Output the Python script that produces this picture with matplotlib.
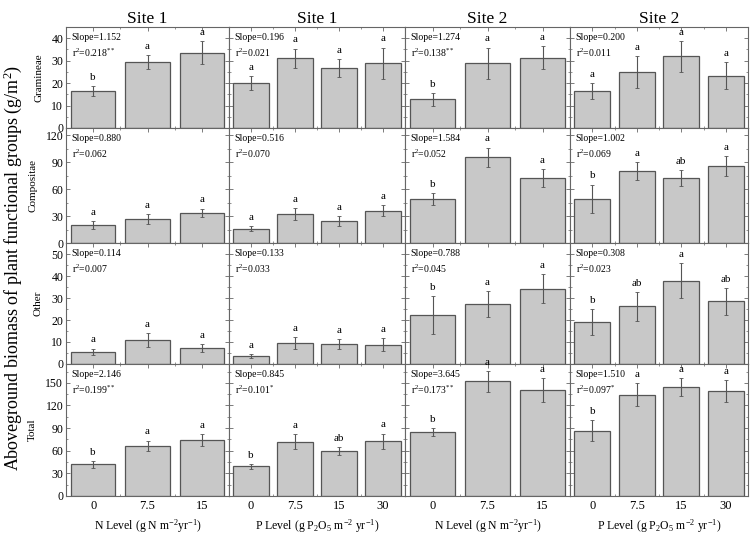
import matplotlib
matplotlib.use('Agg')
import matplotlib.pyplot as plt
from matplotlib.ticker import MultipleLocator, FixedLocator

plt.rcParams['font.family'] = ['Liberation Serif', 'DejaVu Serif']
plt.rcParams['mathtext.fontset'] = 'custom'
plt.rcParams['mathtext.rm'] = 'Liberation Serif'
plt.rcParams['mathtext.it'] = 'Liberation Serif:italic'

# ---- data ----
levels_N = ['0', '7.5', '15']
levels_P = ['0', '7.5', '15', '30']
col_levels = [levels_N, levels_P, levels_N, levels_P]
site_titles = ['Site 1', 'Site 1', 'Site 2', 'Site 2']
xlabels = ['N Level (g N m$^{-2}$yr$^{-1}$)',
           'P Level (g P$_2$O$_5$ m$^{-2}$ yr$^{-1}$)',
           'N Level (g N m$^{-2}$yr$^{-1}$)',
           'P Level (g P$_2$O$_5$ m$^{-2}$ yr$^{-1}$)']
groups = ['Gramineae', 'Compositae', 'Other', 'Total']

gram_mean = [[16.5, 29.4, 33.6], [20.0, 31.0, 26.6, 28.8], [12.7, 28.8, 31.4], [16.4, 24.9, 31.9, 23.2]]
gram_err = [[2.3, 3.0, 5.0], [3.0, 4.4, 4.0, 7.0], [3.0, 7.0, 5.0], [3.6, 7.0, 7.0, 6.0]]
gram_letters = [['b', 'a', 'a'], ['a', 'a', 'a', 'a'], ['b', 'a', 'a'], ['a', 'a', 'a', 'a']]

comp_mean = [[20.2, 26.6, 33.4], [16.1, 32.2, 24.4, 36.0], [49.1, 95.2, 72.7], [49.1, 80.1, 71.9, 85.4]]
comp_err = [[4.5, 6.0, 5.0], [2.6, 7.0, 6.0, 6.5], [6.5, 11.0, 10.0], [16.0, 10.0, 9.0, 11.0]]
comp_letters = [['a', 'a', 'a'], ['a', 'a', 'a', 'a'], ['b', 'a', 'a'], ['b', 'a', 'ab', 'a']]

other_mean = [[5.5, 10.9, 7.3], [3.6, 9.5, 9.1, 8.8], [22.3, 27.3, 34.2], [19.1, 26.2, 37.9, 28.5]]
other_err = [[1.5, 3.0, 1.7], [1.0, 2.6, 2.3, 3.0], [8.5, 6.0, 6.5], [6.0, 6.5, 8.0, 6.0]]
other_letters = [['a', 'a', 'a'], ['a', 'a', 'a', 'a'], ['b', 'a', 'a'], ['b', 'ab', 'a', 'ab']]

total_mean = [[42.0, 66.5, 74.5], [39.3, 72.2, 59.8, 72.8], [84.8, 152.0, 140.0], [86.6, 134.3, 144.5, 139.1]]
total_err = [[4.4, 7.0, 8.0], [3.0, 10.0, 5.0, 10.0], [5.4, 13.5, 16.0], [14.0, 15.0, 11.5, 15.0]]
total_letters = [['b', 'a', 'a'], ['b', 'a', 'ab', 'a'], ['b', 'a', 'a'], ['b', 'a', 'a', 'a']]

slopes = [['1.152', '0.196', '1.274', '0.200'],
          ['0.880', '0.516', '1.584', '1.002'],
          ['0.114', '0.133', '0.788', '0.308'],
          ['2.146', '0.845', '3.645', '1.510']]
r2s = [['0.218$^{**}$', '0.021', '0.138$^{**}$', '0.011'],
       ['0.062', '0.070', '0.052', '0.069'],
       ['0.007', '0.033', '0.045', '0.023'],
       ['0.199$^{**}$', '0.101$^{*}$', '0.173$^{**}$', '0.097$^{*}$']]

means = [gram_mean, comp_mean, other_mean, total_mean]
errs = [gram_err, comp_err, other_err, total_err]
letters = [gram_letters, comp_letters, other_letters, total_letters]

# axis settings per row
ylims = [45, 128, 55, 175]
ysteps = [10, 30, 10, 30]

# ---- layout (pixels of a 750x535 canvas) ----
W, H = 750, 535
col_edges = [66, 229, 405, 570, 748]
row_edges = [27, 128, 243, 364, 496]

fig = plt.figure(figsize=(W / 100, H / 100), dpi=100)

frame_col = '#666666'
bar_face = '#c8c8c8'
bar_edge = '#555555'

for r in range(4):
    for c in range(4):
        x0, x1 = col_edges[c], col_edges[c + 1]
        y0, y1 = row_edges[r], row_edges[r + 1]
        ax = fig.add_axes([x0 / W, 1 - y1 / H, (x1 - x0) / W, (y1 - y0) / H])
        levs = col_levels[c]
        xs = list(range(len(levs)))
        m = means[r][c]
        e = errs[r][c]
        ax.bar(xs, m, width=0.82, color=bar_face, edgecolor=bar_edge, linewidth=0.9, zorder=2)
        ax.errorbar(xs, m, yerr=e, fmt='none', ecolor='#555555', elinewidth=0.8,
                    capsize=1.5, capthick=0.6, zorder=3)
        for xi, mi, ei, lt in zip(xs, m, e, letters[r][c]):
            ax.annotate(lt, (xi, mi + ei), xytext=(0, 3), textcoords='offset points',
                        ha='center', va='bottom', fontsize=8, annotation_clip=False)
        ax.set_xlim(-0.5, len(levs) - 0.5)
        ax.set_ylim(0, ylims[r])

        ax.annotate('Slope=' + slopes[r][c], (0, 1), xycoords='axes fraction',
                    xytext=(4, -4), textcoords='offset points', ha='left', va='top', fontsize=7)
        ax.annotate('r$^2$=' + r2s[r][c], (0, 1), xycoords='axes fraction',
                    xytext=(4, -14), textcoords='offset points', ha='left', va='top', fontsize=7)

        for s in ax.spines.values():
            s.set_color(frame_col)
            s.set_linewidth(0.8)
        ax.yaxis.set_major_locator(MultipleLocator(ysteps[r]))
        ax.yaxis.set_minor_locator(MultipleLocator(ysteps[r] / 2))
        ax.xaxis.set_major_locator(FixedLocator(xs))
        ax.xaxis.set_minor_locator(FixedLocator([x + 0.5 for x in xs[:-1]]))
        ax.tick_params(which='both', direction='in', colors=frame_col, top=True, right=True,
                       labelcolor='black', labelsize=8.5, pad=2)
        ax.tick_params(which='major', length=3, width=0.6)
        ax.tick_params(which='minor', length=1.6, width=0.5)
        if c == 0:
            ax.set_ylabel(groups[r], fontsize=8, labelpad=6)
        else:
            ax.set_yticklabels([])
        if r == 3:
            ax.set_xticklabels(levs, fontsize=9)
            ax.tick_params(axis='x', pad=3)
            ax.set_xlabel(xlabels[c], fontsize=8.5, labelpad=4)
        else:
            ax.set_xticklabels([])
        if r == 0:
            ax.set_title(site_titles[c], fontsize=12.5, pad=3)

fig.text(13 / W, 1 - 268 / H, 'Aboveground biomass of plant functional groups (g/m$^2$)',
         rotation=90, ha='center', va='center', fontsize=13)

fig.savefig('out.png', dpi=100)
